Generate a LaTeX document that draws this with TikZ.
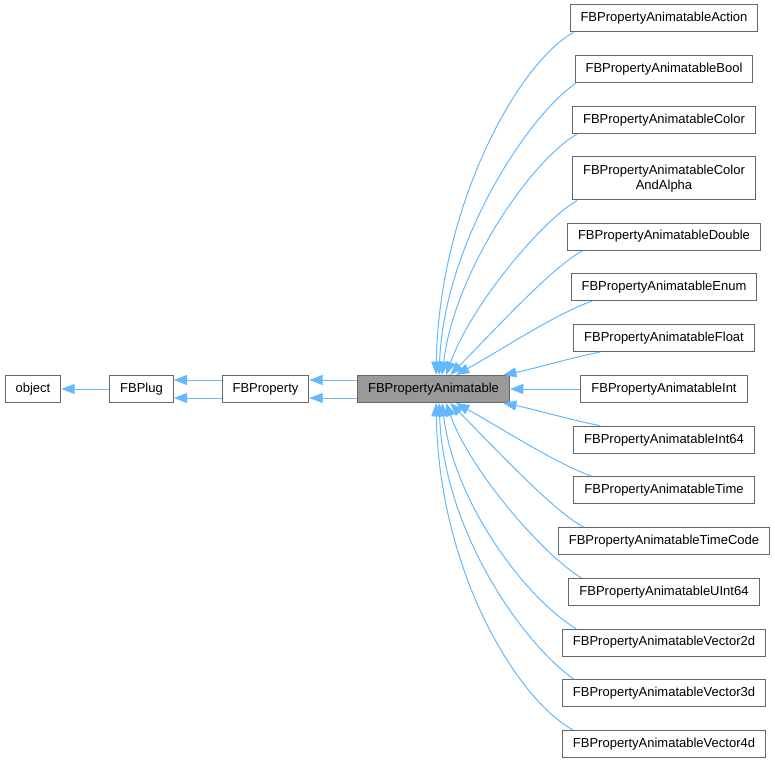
\documentclass[tikz,border=0pt]{standalone}
\usepackage{fontspec}
\setmainfont{Liberation Sans}
\usetikzlibrary{arrows.meta,calc}
\definecolor{edgeblue}{RGB}{99,184,255}
\definecolor{boxgray}{RGB}{102,102,102}
\definecolor{hlgray}{RGB}{153,153,153}

\begin{document}
\begin{tikzpicture}[x=0.75pt,y=-0.75pt,>={Triangle[length=10pt,width=7.5pt]},
  cls/.style={draw=boxgray,fill=white,line width=0.75pt,inner xsep=7.9pt,inner ysep=0pt,
    minimum height=20.25pt,font=\fontsize{9.75}{11.5}\selectfont},
  cur/.style={cls,fill=hlgray},
  inh/.style={draw=edgeblue,line width=0.75pt,->}]
  \useasboundingbox (0,0) rectangle (775,763);

  % base chain
  \node[cls] (obj) at (33,389) {object};
  \node[cls] (plug) at (141.5,389) {FBPlug};
  \node[cls] (prop) at (265.5,389) {FBProperty};
  \node[cur] (anim) at (433.5,389) {FBPropertyAnimatable};

  % derived classes
  \foreach \n/\lab/\y in {act/Action/18.5,bool/Bool/69.3,color/Color/120,
      dbl/Double/236.6,enum/Enum/287.3,flt/Float/338,int/Int/389,
      i64/Int64/439.7,time/Time/490.4,tc/TimeCode/541.1,u64/UInt64/591.8,
      v2/Vector2d/642.5,v3/Vector3d/693.2,v4/Vector4d/743.9}{
    \node[cls] (\n) at (664,\y) {FBPropertyAnimatable\lab};
  }
  \node[cls,align=center,minimum height=32.25pt] (caa) at (664,178.5)
    {FBPropertyAnimatableColor\\AndAlpha};

  \draw[inh] (plug) -- (obj);
  \foreach \d in {-9,9}{
    \draw[inh] ($(prop.west)+(0,\d)$) -- ($(plug.east)+(0,\d)$);
    \draw[inh] ($(anim.west)+(0,\d)$) -- ($(prop.east)+(0,\d)$);
  }
  \draw[inh] (int) -- (anim);

  % upper fan
  \foreach \n/\sx/\tx/\ax/\ay/\bx/\by in {act/4/79/-55/30/3/-170,
      bool/1/82/-50/35/5/-130,color/5/85/-50/30/12/-100,
      caa/5/89/-35/20/25/-70,dbl/16/93/-30/15/40/-40,
      enum/21/99/-35/12/45/-25,flt/27/146/-30/6/30/-6}{
    \draw[inh] ($(\n.south west)+(\sx,0)$) .. controls +(\ax,\ay) and +(\bx,\by)
      .. ($(anim.north west)+(\tx,0)$);
  }
  % lower fan
  \foreach \n/\sx/\tx/\ax/\ay/\bx/\by in {i64/27/146/-30/-6/30/6,
      time/19/99/-35/-12/45/25,tc/26/93/-30/-15/40/40,
      u64/13/89/-35/-20/25/70,v2/14/85/-50/-30/12/100,
      v3/12/82/-50/-35/5/130,v4/11/79/-55/-30/3/170}{
    \draw[inh] ($(\n.north west)+(\sx,0)$) .. controls +(\ax,\ay) and +(\bx,\by)
      .. ($(anim.south west)+(\tx,0)$);
  }
\end{tikzpicture}
\end{document}
